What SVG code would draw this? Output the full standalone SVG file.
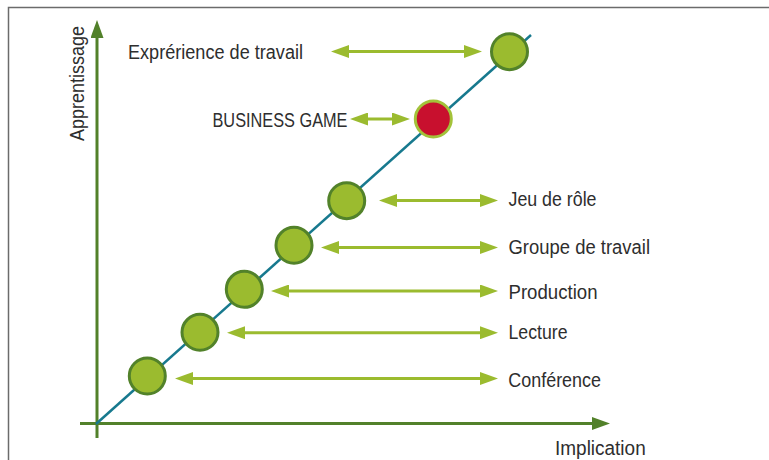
<svg xmlns="http://www.w3.org/2000/svg" width="769" height="460" viewBox="0 0 769 460">
  <style>
    .lbl { font-family: "Liberation Sans", Arial, sans-serif; font-size: 20px; fill: #2e2e2e; }
    .node { fill: #9bbb2f; stroke: #52822a; stroke-width: 3; }
    .hot { fill: #c8102e; stroke: #a3c23a; stroke-width: 3; }
    .link { stroke: #9bbb2f; stroke-width: 3; fill: none; marker-start: url(#ah); marker-end: url(#ah); }
    .axis { stroke: #52812a; stroke-width: 3; fill: none; }
  </style>
  <defs>
    <marker id="ah" markerUnits="userSpaceOnUse" markerWidth="18" markerHeight="13" refX="8" refY="6.5" orient="auto-start-reverse" viewBox="0 0 18 13">
      <path d="M0,0 L18,6.5 L0,13 Z" fill="#9bbb2f"/>
    </marker>
    <marker id="axh" markerUnits="userSpaceOnUse" markerWidth="18" markerHeight="13" refX="8" refY="6.5" orient="auto" viewBox="0 0 18 13">
      <path d="M0,0 L18,6.5 L0,13 Z" fill="#52812a"/>
    </marker>
  </defs>
  <rect width="769" height="460" fill="#ffffff"/>
  <path d="M8.5,460 L8.5,7.5 L769,7.5" fill="none" stroke="#6b6b6b" stroke-width="1.5"/>

  <g id="axes">
    <line class="axis" x1="97" y1="438" x2="97" y2="30" marker-end="url(#axh)"/>
    <line class="axis" x1="80" y1="423.5" x2="600" y2="423.5" marker-end="url(#axh)"/>
    <text class="lbl" transform="translate(83.5,141) rotate(-90)" textLength="115" lengthAdjust="spacingAndGlyphs">Apprentissage</text>
    <text class="lbl" x="555" y="454.5" textLength="90.7" lengthAdjust="spacingAndGlyphs">Implication</text>
  </g>

  <g id="trend">
    <line x1="96" y1="424" x2="531" y2="35" stroke="#17798e" stroke-width="2.5"/>
  </g>

  <g id="connectors">
    <line class="link" x1="341" y1="51.5" x2="472" y2="51.5"/>
    <line class="link" x1="360" y1="119" x2="400" y2="119"/>
    <line class="link" x1="389" y1="200.5" x2="488" y2="200.5"/>
    <line class="link" x1="331" y1="247.5" x2="488" y2="247.5"/>
    <line class="link" x1="281" y1="291" x2="488" y2="291"/>
    <line class="link" x1="237" y1="332.7" x2="488" y2="332.7"/>
    <line class="link" x1="185" y1="378.5" x2="488" y2="378.5"/>
  </g>

  <g id="node-experience">
    <circle class="node" cx="509.5" cy="51.7" r="18"/>
    <text class="lbl" x="128" y="59.3" textLength="175" lengthAdjust="spacingAndGlyphs">Exprérience de travail</text>
  </g>
  <g id="node-business-game">
    <circle class="hot" cx="433.3" cy="119" r="18"/>
    <text class="lbl" x="212.5" y="126.8" textLength="135" lengthAdjust="spacingAndGlyphs">BUSINESS GAME</text>
  </g>
  <g id="node-jeu-de-role">
    <circle class="node" cx="346.7" cy="200.7" r="18"/>
    <text class="lbl" x="508.5" y="205.5" textLength="88" lengthAdjust="spacingAndGlyphs">Jeu de rôle</text>
  </g>
  <g id="node-groupe-de-travail">
    <circle class="node" cx="294" cy="245.3" r="18"/>
    <text class="lbl" x="508.5" y="253.5" textLength="141.5" lengthAdjust="spacingAndGlyphs">Groupe de travail</text>
  </g>
  <g id="node-production">
    <circle class="node" cx="244.3" cy="289.3" r="18"/>
    <text class="lbl" x="508.5" y="298.5" textLength="89" lengthAdjust="spacingAndGlyphs">Production</text>
  </g>
  <g id="node-lecture">
    <circle class="node" cx="200" cy="332.3" r="18"/>
    <text class="lbl" x="508.5" y="339.3" textLength="59" lengthAdjust="spacingAndGlyphs">Lecture</text>
  </g>
  <g id="node-conference">
    <circle class="node" cx="147.3" cy="376" r="18"/>
    <text class="lbl" x="508.3" y="387.3" textLength="92.7" lengthAdjust="spacingAndGlyphs">Conférence</text>
  </g>
</svg>
